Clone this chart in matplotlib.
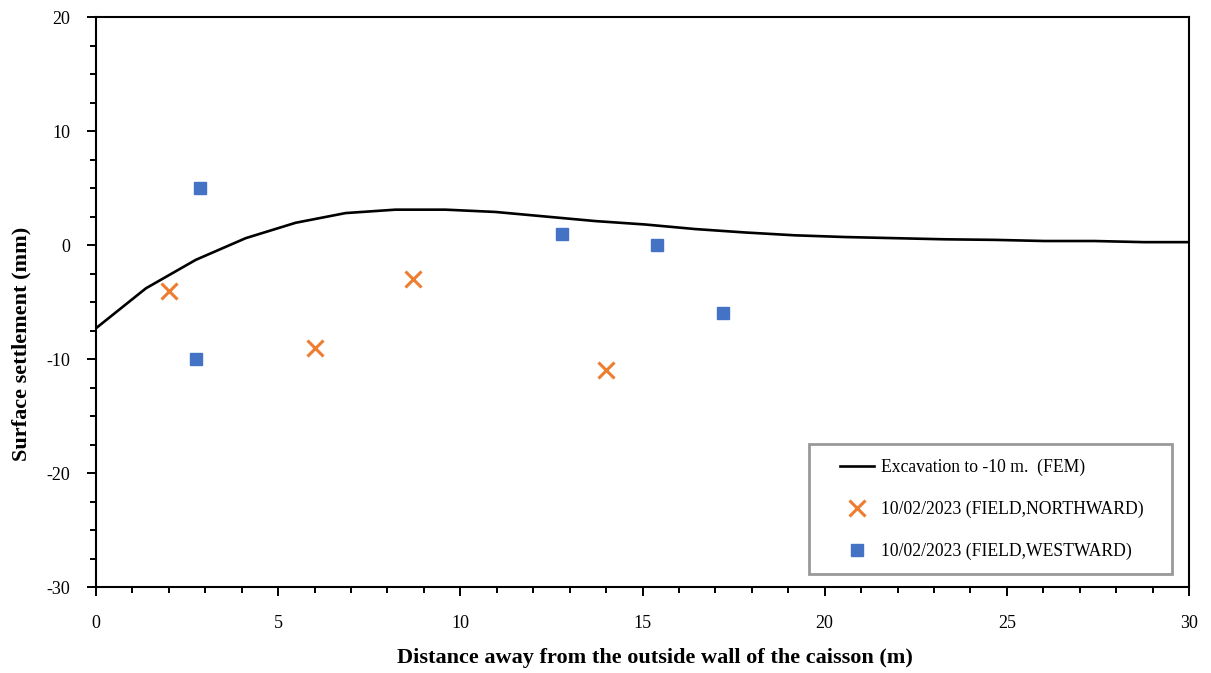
import matplotlib.pyplot as plt
from matplotlib.ticker import MultipleLocator
from matplotlib.lines import Line2D
from matplotlib.legend_handler import HandlerLine2D

# FEM curve
fem_x = [0, 1.37, 2.74, 4.11, 5.48, 6.85, 8.22, 9.59, 10.96, 12.33, 13.7, 15.07,
         16.44, 17.81, 19.18, 20.55, 21.92, 23.29, 24.66, 26.03, 27.4, 28.77, 30]
fem_y = [-7.3, -3.8, -1.3, 0.6, 1.95, 2.8, 3.1, 3.1, 2.9, 2.5, 2.1, 1.8,
         1.4, 1.1, 0.85, 0.7, 0.6, 0.5, 0.45, 0.35, 0.35, 0.25, 0.25]

# field measurements
north_x = [2.0, 6.0, 8.7, 14.0]
north_y = [-4, -9, -3, -11]
west_x = [2.85, 2.75, 12.8, 15.4, 17.2]
west_y = [5, -10, 1, 0, -6]

plt.rcParams['font.family'] = ['Liberation Serif', 'DejaVu Serif']
plt.rcParams['axes.unicode_minus'] = False

W, H = 1211, 673
fig = plt.figure(figsize=(W / 100, H / 100), dpi=100)
ax = fig.add_axes([96 / W, 1 - 587 / H, (1189 - 96) / W, (587 - 17) / H])

ax.plot(fem_x, fem_y, color='black', lw=1.9, label='Excavation to -10 m.  (FEM)')
ax.plot(north_x, north_y, ls='none', marker='x', color='#ED7D31', markersize=11,
        markeredgewidth=2.2, label='10/02/2023 (FIELD,NORTHWARD)')
ax.plot(west_x, west_y, ls='none', marker='s', color='#4472C4', markersize=8.5,
        label='10/02/2023 (FIELD,WESTWARD)')

ax.set_xlim(0, 30)
ax.set_ylim(-30, 20)
ax.xaxis.set_major_locator(MultipleLocator(5))
ax.xaxis.set_minor_locator(MultipleLocator(1))
ax.yaxis.set_major_locator(MultipleLocator(10))
ax.yaxis.set_minor_locator(MultipleLocator(2.5))
ax.tick_params(which='major', length=6.5, width=1.4, labelsize=13, colors='black')
ax.tick_params(which='minor', length=4.5, width=1.4)
ax.tick_params(axis='x', pad=14)
ax.tick_params(axis='y', pad=12)
for s in ax.spines.values():
    s.set_linewidth(1.5)

fig.text(655 / W, 1 - 658 / H, 'Distance away from the outside wall of the caisson (m)',
         fontsize=16, fontweight='bold', ha='center', va='center')
fig.text(21 / W, 1 - 344 / H, 'Surface settlement (mm)', rotation=90,
         fontsize=16, fontweight='bold', ha='center', va='center')

leg = ax.legend(loc='lower left',
                bbox_to_anchor=(809 / W, 1 - 574 / H, (1172 - 809) / W, 130 / H),
                bbox_transform=fig.transFigure, mode='expand', fontsize=12.7,
                frameon=True, fancybox=False, edgecolor='#808080', labelspacing=1.4,
                borderpad=0.8, handlelength=2.9, handletextpad=0.4, borderaxespad=0,
                handler_map={Line2D: HandlerLine2D(xpad=0.95)})
leg.get_frame().set_linewidth(2)

fig.savefig('out.png', dpi=100)
